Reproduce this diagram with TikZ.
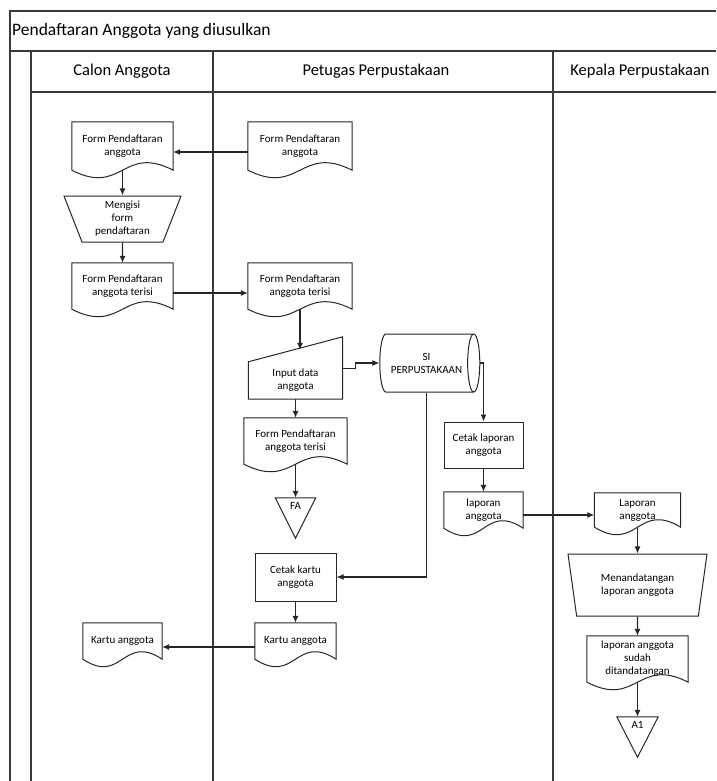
\documentclass[tikz,border=0pt]{standalone}
\usepackage{fontspec}
\setmainfont{Carlito}
\usepackage{tikz}
\usetikzlibrary{arrows,arrows.meta,shapes.geometric,calc,positioning}
\definecolor{garis}{HTML}{3A3A3A}
\tikzset{
	fcnode/.style = {align=center, inner sep=0pt, text centered,
		font=\fontsize{11}{13}\selectfont},
	fc_line/.style = {draw=black!85, line width=1pt},
	fc_arrow/.style = {-{Latex[length=7pt,width=6pt]}, draw=black!85, line width=1.1pt},
	fc_doc/.style = {fcnode, append after command={\pgfextra{
		\draw[fc_line] (\tikzlastnode.north east) -- (\tikzlastnode.north west)
		-- (\tikzlastnode.south west)
		.. controls ($(\tikzlastnode.south)+(0,-26pt)$) and ($(\tikzlastnode.south)+(0,26pt)$)
		.. (\tikzlastnode.south east) -- cycle;}}},% dokumen
	fc_proc/.style = {fcnode, rectangle, fc_line},% proses
	fc_man/.style = {fcnode, trapezium, shape border rotate=180,
		trapezium stretches body, fc_line},% operasi manual
	fc_inp/.style = {fcnode, append after command={\pgfextra{
		\draw[fc_line] (\tikzlastnode.south west) -- (\tikzlastnode.south east)
		-- ($(\tikzlastnode.north east)+(0,25pt)$) -- (\tikzlastnode.north west) -- cycle;}}},% input manual
	fc_db/.style = {fcnode, cylinder, aspect=0.6, fc_line},% basis data
	fc_off/.style = {fcnode, minimum width=40pt, minimum height=16pt,
		append after command={\pgfextra{
		\draw[fc_line] (\tikzlastnode.north west) -- (\tikzlastnode.north east)
		-- ($(\tikzlastnode.south)+(0,-24pt)$) -- cycle;}}},% off page
	lane/.style = {draw=garis, line width=2.2pt},
	judul/.style = {font=\fontsize{16.5}{19}\selectfont, inner sep=0pt}
}
\begin{document}
\begin{tikzpicture}[x=1pt, y=-1pt]
\useasboundingbox (0,0) rectangle (716,781);
% kolom
\draw[lane] (10,781) -- (10,11) -- (716,11);
\draw[lane] (10,51) -- (716,51);
\draw[lane] (31,92) -- (716,92);
\draw[lane] (31,51) -- (31,781);
\draw[lane] (213,51) -- (213,781);
\draw[lane] (553,51) -- (553,781);
\node[judul, anchor=west, font=\fontsize{17.5}{20}\selectfont] (judul) at (12,31) {Pendaftaran Anggota yang diusulkan};
\node[judul] (calon) at (122,71) {Calon Anggota};
\node[judul] (petugas) at (376,71) {Petugas Perpustakaan};
\node[judul] (kepala) at (640,71) {Kepala Perpustakaan};

% calon anggota
\node[fc_doc, minimum width=101pt, minimum height=48pt] (formC) at (122.5,146) {Form Pendaftaran\\anggota};
\node[fc_man, minimum width=117pt, minimum height=46pt, trapezium angle=63] (isi) at (122.5,219) {Mengisi\\form\\pendaftaran};
\node[fc_doc, minimum width=101pt, minimum height=46pt] (terisiC) at (122.5,286) {Form Pendaftaran\\anggota terisi};
\node[fc_doc, minimum width=79pt, minimum height=36pt] (kartuC) at (122.5,641) {Kartu anggota};

% petugas perpustakaan
\node[fc_doc, minimum width=104pt, minimum height=48pt] (formP) at (300,146) {Form Pendaftaran\\anggota};
\node[fc_doc, minimum width=104pt, minimum height=46pt] (terisiP) at (300,286) {Form Pendaftaran\\anggota terisi};
\node[fc_inp, minimum width=94pt, minimum height=37pt] (input) at (295.5,380.5) {Input data\\anggota};
\coordinate (inputtop) at ($(input.north)+(0,12pt)$);
\node[fc_db, minimum width=58pt, minimum height=100pt] (si) at (426.5,363) {SI\\PERPUSTAKAAN};
\node[fc_doc, minimum width=103pt, minimum height=46pt] (arsip) at (295.5,441) {Form Pendaftaran\\anggota terisi};
\node[fc_off] (fa) at (295.5,506) {FA};
\node[fc_proc, minimum width=79pt, minimum height=46pt] (cetaklap) at (483.5,445) {Cetak laporan\\anggota};
\node[fc_doc, minimum width=79pt, minimum height=36pt] (lap) at (483.5,510) {laporan\\anggota};
\node[fc_proc, minimum width=81pt, minimum height=48pt] (cetakkartu) at (295.5,577) {Cetak kartu\\anggota};
\node[fc_doc, minimum width=81pt, minimum height=36pt] (kartu) at (295.5,641) {Kartu anggota};

% kepala perpustakaan
\node[fc_doc, minimum width=86pt, minimum height=34pt] (lapK) at (637.5,510) {Laporan\\anggota};
\node[fc_man, minimum width=139pt, minimum height=62pt, trapezium angle=69] (ttd) at (637.5,585) {Menandatangan\\laporan anggota};
\node[fc_doc, minimum width=101pt, minimum height=46pt] (lapttd) at (637.5,659) {laporan anggota\\sudah\\ditandatangan};
\node[fc_off, minimum width=41pt] (a1) at (637.5,725) {A1};

% alur
\draw[fc_arrow] ([yshift=-6pt]formP.west) -- ([yshift=-6pt]formP.west -| formC.east);
\draw[fc_arrow] (formC) -- (isi);
\draw[fc_arrow] (isi) -- (terisiC);
\draw[fc_arrow] ([yshift=-7pt]terisiC.east) -- ([yshift=-7pt]terisiC.east -| terisiP.west);
\draw[fc_arrow] (terisiP.south) -- (terisiP.south |- inputtop);
\draw[fc_arrow] ([yshift=12pt]input.east) -- ++(13,0) |- (si.west);
\draw[fc_arrow] (input) -- (arsip);
\draw[fc_arrow] (arsip) -- (fa);
\draw[fc_arrow] (si.east) -| (cetaklap);
\draw[fc_arrow] (cetaklap) -- (lap);
\draw[fc_arrow] (si.south) |- (cetakkartu.east);
\draw[fc_arrow] (cetakkartu) -- (kartu);
\draw[fc_arrow] ([yshift=-6pt]kartu.west) -- ([yshift=-6pt]kartu.west -| kartuC.east);
\draw[fc_arrow] ([yshift=-5pt]lap.east) -- ([yshift=-5pt]lap.east -| lapK.west);
\draw[fc_arrow] (lapK) -- (ttd);
\draw[fc_arrow] (ttd) -- (lapttd);
\draw[fc_arrow] (lapttd) -- (a1);
\end{tikzpicture}
\end{document}
